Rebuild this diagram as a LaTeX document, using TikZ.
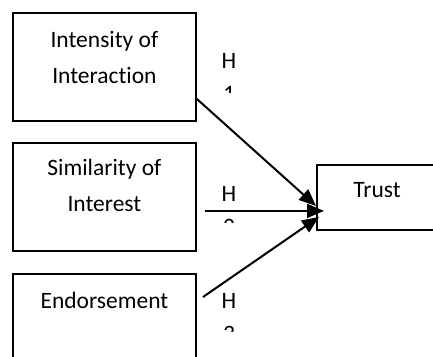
\documentclass[tikz,border=0pt]{standalone}
\usepackage{fontspec}
\setmainfont[Ligatures=NoCommon]{Carlito}
\usetikzlibrary{arrows.meta, positioning, calc}

\tikzset{
  factor/.style={draw, line width=1.8pt, minimum width=183pt, minimum height=108pt, inner sep=0pt},
  boxtext/.style={anchor=north, inner sep=0pt, align=center, font=\fontsize{23.5}{36}\selectfont},
  hyp/.style={inner sep=0pt, align=center, font=\fontsize{23.5}{33}\selectfont},
  link/.style={line width=2pt, -{Triangle[length=17pt, width=14pt]}}
}

\begin{document}
\begin{tikzpicture}[x=1pt, y=-1pt]
  \useasboundingbox (0,0) rectangle (433,356);

  % factor boxes
  \node[factor, anchor=north west] (intens) at (12,12) {};
  \node[boxtext] at ([yshift=-19.5pt]intens.north) {Intensity of\\Interaction};
  \node[factor, anchor=north west] (simil) at (12,142) {};
  \node[boxtext] at ([yshift=-16.5pt]simil.north) {Similarity of\\Interest};
  \begin{scope}
    \clip (0,0) rectangle (433,356);
    \node[factor, anchor=north west] (endors) at (12,273) {};
    % trust box
    \node[factor, anchor=north west, minimum width=122pt, minimum height=65pt] (trust) at (316,164) {};
  \end{scope}
  \node[boxtext] at ([yshift=-18.5pt]endors.north) {Endorsement};
  \node[boxtext] at ([yshift=-18.5pt,xshift=61pt]trust.north west) {Trust};

  % end points of the links
  \coordinate (s1) at ([yshift=-32pt]intens.east);
  \coordinate (s2) at ([xshift=8pt,yshift=-14pt]simil.east);
  \coordinate (s3) at (203,297);
  \coordinate (t1) at ([yshift=-8.5pt]trust.west);
  \coordinate (t2) at ([xshift=8pt,yshift=-13.5pt]trust.west);
  \coordinate (t3) at ([xshift=3pt,yshift=-19.5pt]trust.west);

  \draw[link] (s1) -- (t1);
  \draw[link] (s2) -- (t2);
  \draw[link] (s3) -- (t3);

  % hypothesis labels, cut off as in the source
  \begin{scope}
    \clip (215,45) rectangle (245,92);
    \node[hyp, anchor=north] (h1) at (229,53) {H\\1};
  \end{scope}
  \begin{scope}
    \clip (215,180) rectangle (245,222);
    \node[hyp, anchor=north] (h2) at (229,186) {H\\2};
  \end{scope}
  \begin{scope}
    \clip (215,285) rectangle (245,331);
    \node[hyp, anchor=north] (h3) at (229,293) {H\\3};
  \end{scope}
\end{tikzpicture}
\end{document}
